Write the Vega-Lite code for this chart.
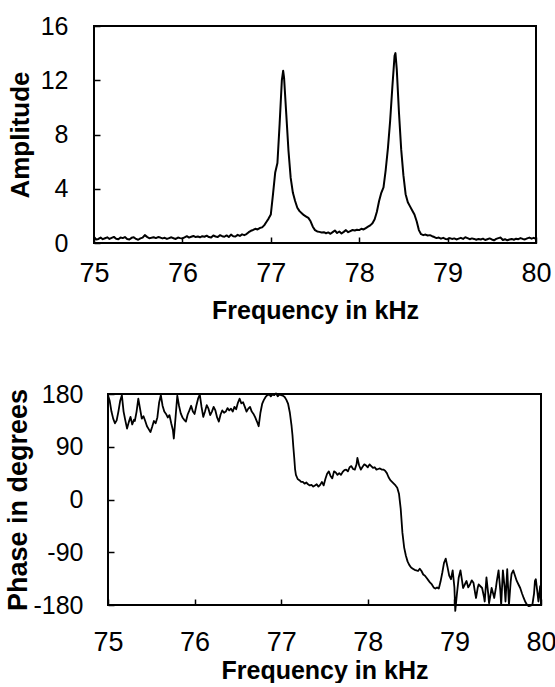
{
  "$schema": "https://vega.github.io/schema/vega-lite/v6.json",
  "background": "white",
  "padding": {"left": 4, "top": 13, "right": 0, "bottom": 0},
  "spacing": 58,
  "config": {
    "view": {"stroke": "black", "strokeWidth": 2},
    "font": "Liberation Sans",
    "axis": {
      "domain": false,
      "grid": false,
      "tickColor": "black",
      "tickWidth": 1.5,
      "tickSize": -6,
      "labelColor": "black",
      "titleColor": "black",
      "labelFont": "Liberation Sans",
      "titleFont": "Liberation Sans",
      "titleFontWeight": "bold",
      "labelFlush": false,
      "labelOverlap": false
    }
  },
  "datasets": {
    "amp": [
      {"f":75.000,"a":0.45},{"f":75.025,"a":0.25},{"f":75.050,"a":0.30},{"f":75.075,"a":0.40},{"f":75.100,"a":0.28},
      {"f":75.125,"a":0.35},{"f":75.150,"a":0.42},{"f":75.175,"a":0.30},{"f":75.200,"a":0.38},{"f":75.225,"a":0.45},
      {"f":75.250,"a":0.32},{"f":75.275,"a":0.28},{"f":75.300,"a":0.40},{"f":75.325,"a":0.36},{"f":75.350,"a":0.44},
      {"f":75.375,"a":0.30},{"f":75.400,"a":0.26},{"f":75.425,"a":0.38},{"f":75.450,"a":0.42},{"f":75.475,"a":0.30},
      {"f":75.500,"a":0.24},{"f":75.525,"a":0.34},{"f":75.550,"a":0.40},{"f":75.575,"a":0.58},{"f":75.600,"a":0.45},
      {"f":75.625,"a":0.35},{"f":75.650,"a":0.38},{"f":75.675,"a":0.42},{"f":75.700,"a":0.36},{"f":75.725,"a":0.44},
      {"f":75.750,"a":0.40},{"f":75.775,"a":0.34},{"f":75.800,"a":0.38},{"f":75.825,"a":0.30},{"f":75.850,"a":0.36},
      {"f":75.875,"a":0.42},{"f":75.900,"a":0.35},{"f":75.925,"a":0.30},{"f":75.950,"a":0.40},{"f":75.975,"a":0.36},
      {"f":76.000,"a":0.34},{"f":76.025,"a":0.42},{"f":76.050,"a":0.50},{"f":76.075,"a":0.40},{"f":76.100,"a":0.46},
      {"f":76.125,"a":0.52},{"f":76.150,"a":0.44},{"f":76.175,"a":0.48},{"f":76.200,"a":0.42},{"f":76.225,"a":0.50},
      {"f":76.250,"a":0.46},{"f":76.275,"a":0.54},{"f":76.300,"a":0.44},{"f":76.325,"a":0.40},{"f":76.350,"a":0.55},
      {"f":76.375,"a":0.48},{"f":76.400,"a":0.44},{"f":76.425,"a":0.58},{"f":76.450,"a":0.50},{"f":76.475,"a":0.46},
      {"f":76.500,"a":0.56},{"f":76.525,"a":0.44},{"f":76.550,"a":0.62},{"f":76.575,"a":0.50},{"f":76.600,"a":0.48},
      {"f":76.625,"a":0.60},{"f":76.650,"a":0.52},{"f":76.675,"a":0.64},{"f":76.700,"a":0.58},{"f":76.725,"a":0.66},
      {"f":76.750,"a":0.80},{"f":76.775,"a":0.90},{"f":76.800,"a":0.96},{"f":76.825,"a":1.05},{"f":76.850,"a":1.00},
      {"f":76.875,"a":1.10},{"f":76.900,"a":1.15},{"f":76.925,"a":1.30},{"f":76.950,"a":1.55},{"f":76.975,"a":1.80},
      {"f":77.000,"a":2.10},{"f":77.025,"a":3.60},{"f":77.050,"a":5.20},{"f":77.075,"a":5.90},{"f":77.100,"a":8.80},
      {"f":77.125,"a":12.00},{"f":77.140,"a":12.70},{"f":77.150,"a":12.20},{"f":77.175,"a":9.50},{"f":77.200,"a":6.80},
      {"f":77.225,"a":4.80},{"f":77.250,"a":3.70},{"f":77.275,"a":3.10},{"f":77.300,"a":2.60},{"f":77.325,"a":2.35},
      {"f":77.350,"a":2.20},{"f":77.375,"a":2.05},{"f":77.400,"a":1.95},{"f":77.425,"a":1.85},{"f":77.450,"a":1.60},
      {"f":77.475,"a":1.20},{"f":77.500,"a":0.95},{"f":77.525,"a":0.85},{"f":77.550,"a":0.82},{"f":77.575,"a":0.78},
      {"f":77.600,"a":0.80},{"f":77.625,"a":0.72},{"f":77.650,"a":0.78},{"f":77.675,"a":0.68},{"f":77.700,"a":0.80},
      {"f":77.725,"a":0.92},{"f":77.750,"a":0.74},{"f":77.775,"a":0.85},{"f":77.800,"a":0.70},{"f":77.825,"a":0.82},
      {"f":77.850,"a":0.95},{"f":77.875,"a":0.80},{"f":77.900,"a":0.88},{"f":77.925,"a":0.96},{"f":77.950,"a":0.92},
      {"f":77.975,"a":0.98},{"f":78.000,"a":0.95},{"f":78.025,"a":1.05},{"f":78.050,"a":1.00},{"f":78.075,"a":1.10},
      {"f":78.100,"a":1.20},{"f":78.125,"a":1.30},{"f":78.150,"a":1.45},{"f":78.175,"a":1.75},{"f":78.200,"a":2.30},
      {"f":78.225,"a":3.10},{"f":78.250,"a":3.70},{"f":78.275,"a":4.10},{"f":78.300,"a":5.40},{"f":78.325,"a":7.00},
      {"f":78.350,"a":9.00},{"f":78.375,"a":11.50},{"f":78.400,"a":13.80},{"f":78.410,"a":14.00},{"f":78.425,"a":12.80},
      {"f":78.450,"a":9.60},{"f":78.475,"a":6.90},{"f":78.500,"a":5.00},{"f":78.525,"a":3.60},{"f":78.550,"a":3.00},
      {"f":78.575,"a":2.70},{"f":78.600,"a":2.40},{"f":78.625,"a":2.10},{"f":78.650,"a":1.60},{"f":78.675,"a":0.95},
      {"f":78.700,"a":0.65},{"f":78.725,"a":0.58},{"f":78.750,"a":0.62},{"f":78.775,"a":0.55},{"f":78.800,"a":0.58},
      {"f":78.825,"a":0.50},{"f":78.850,"a":0.44},{"f":78.875,"a":0.36},{"f":78.900,"a":0.40},{"f":78.925,"a":0.32},
      {"f":78.950,"a":0.38},{"f":78.975,"a":0.30},{"f":79.000,"a":0.28},{"f":79.025,"a":0.36},{"f":79.050,"a":0.30},
      {"f":79.075,"a":0.34},{"f":79.100,"a":0.26},{"f":79.125,"a":0.32},{"f":79.150,"a":0.38},{"f":79.175,"a":0.30},
      {"f":79.200,"a":0.42},{"f":79.225,"a":0.36},{"f":79.250,"a":0.28},{"f":79.275,"a":0.34},{"f":79.300,"a":0.30},
      {"f":79.325,"a":0.24},{"f":79.350,"a":0.30},{"f":79.375,"a":0.26},{"f":79.400,"a":0.32},{"f":79.425,"a":0.22},
      {"f":79.450,"a":0.28},{"f":79.475,"a":0.34},{"f":79.500,"a":0.26},{"f":79.525,"a":0.20},{"f":79.550,"a":0.30},
      {"f":79.575,"a":0.36},{"f":79.600,"a":0.40},{"f":79.625,"a":0.22},{"f":79.650,"a":0.28},{"f":79.675,"a":0.20},
      {"f":79.700,"a":0.26},{"f":79.725,"a":0.30},{"f":79.750,"a":0.24},{"f":79.775,"a":0.32},{"f":79.800,"a":0.28},
      {"f":79.825,"a":0.36},{"f":79.850,"a":0.30},{"f":79.875,"a":0.26},{"f":79.900,"a":0.34},{"f":79.925,"a":0.40},
      {"f":79.950,"a":0.32},{"f":79.975,"a":0.38},{"f":80.000,"a":0.30}
    ],
    "phase": [
      {"f":75.00,"p":178},{"f":75.02,"p":168},{"f":75.04,"p":150},{"f":75.06,"p":138},{"f":75.08,"p":130},
      {"f":75.10,"p":135},{"f":75.12,"p":150},{"f":75.14,"p":168},{"f":75.16,"p":178},{"f":75.18,"p":150},
      {"f":75.20,"p":135},{"f":75.22,"p":121},{"f":75.24,"p":132},{"f":75.26,"p":141},{"f":75.28,"p":128},
      {"f":75.30,"p":136},{"f":75.31,"p":134},{"f":75.33,"p":150},{"f":75.35,"p":172},{"f":75.37,"p":155},
      {"f":75.39,"p":138},{"f":75.41,"p":142},{"f":75.43,"p":134},{"f":75.45,"p":125},{"f":75.47,"p":120},
      {"f":75.49,"p":115},{"f":75.51,"p":124},{"f":75.53,"p":134},{"f":75.55,"p":130},{"f":75.57,"p":140},
      {"f":75.59,"p":165},{"f":75.61,"p":178},{"f":75.63,"p":160},{"f":75.65,"p":150},{"f":75.67,"p":146},
      {"f":75.69,"p":140},{"f":75.71,"p":144},{"f":75.73,"p":130},{"f":75.75,"p":118},{"f":75.76,"p":104},
      {"f":75.78,"p":140},{"f":75.80,"p":177},{"f":75.82,"p":160},{"f":75.84,"p":147},{"f":75.86,"p":140},
      {"f":75.88,"p":136},{"f":75.90,"p":133},{"f":75.92,"p":145},{"f":75.94,"p":152},{"f":75.96,"p":160},
      {"f":75.98,"p":150},{"f":76.00,"p":146},{"f":76.02,"p":160},{"f":76.04,"p":172},{"f":76.06,"p":179},
      {"f":76.08,"p":158},{"f":76.10,"p":141},{"f":76.12,"p":150},{"f":76.14,"p":161},{"f":76.16,"p":155},
      {"f":76.18,"p":144},{"f":76.20,"p":150},{"f":76.22,"p":158},{"f":76.24,"p":152},{"f":76.26,"p":140},
      {"f":76.28,"p":133},{"f":76.30,"p":145},{"f":76.32,"p":152},{"f":76.34,"p":148},{"f":76.36,"p":150},
      {"f":76.38,"p":156},{"f":76.40,"p":152},{"f":76.42,"p":155},{"f":76.44,"p":150},{"f":76.46,"p":158},
      {"f":76.48,"p":154},{"f":76.50,"p":165},{"f":76.52,"p":172},{"f":76.54,"p":164},{"f":76.56,"p":166},
      {"f":76.58,"p":158},{"f":76.60,"p":150},{"f":76.62,"p":155},{"f":76.64,"p":158},{"f":76.66,"p":150},
      {"f":76.68,"p":146},{"f":76.70,"p":140},{"f":76.72,"p":133},{"f":76.74,"p":125},{"f":76.76,"p":148},
      {"f":76.78,"p":163},{"f":76.80,"p":170},{"f":76.82,"p":175},{"f":76.84,"p":178},{"f":76.86,"p":180},
      {"f":76.88,"p":176},{"f":76.90,"p":180},{"f":76.92,"p":178},{"f":76.94,"p":181},{"f":76.96,"p":176},
      {"f":76.98,"p":180},{"f":77.00,"p":178},{"f":77.02,"p":177},{"f":77.04,"p":175},{"f":77.06,"p":170},
      {"f":77.08,"p":163},{"f":77.10,"p":148},{"f":77.12,"p":125},{"f":77.13,"p":110},{"f":77.14,"p":90},
      {"f":77.15,"p":72},{"f":77.16,"p":52},{"f":77.17,"p":42},{"f":77.19,"p":35},{"f":77.21,"p":33},
      {"f":77.23,"p":30},{"f":77.25,"p":30},{"f":77.27,"p":27},{"f":77.29,"p":29},{"f":77.31,"p":26},
      {"f":77.33,"p":24},{"f":77.35,"p":25},{"f":77.37,"p":22},{"f":77.39,"p":24},{"f":77.41,"p":26},
      {"f":77.43,"p":22},{"f":77.45,"p":25},{"f":77.47,"p":30},{"f":77.49,"p":24},{"f":77.51,"p":35},
      {"f":77.53,"p":44},{"f":77.55,"p":48},{"f":77.57,"p":40},{"f":77.59,"p":36},{"f":77.61,"p":48},
      {"f":77.63,"p":46},{"f":77.65,"p":42},{"f":77.67,"p":45},{"f":77.69,"p":42},{"f":77.71,"p":47},
      {"f":77.73,"p":50},{"f":77.75,"p":51},{"f":77.77,"p":48},{"f":77.79,"p":55},{"f":77.81,"p":57},
      {"f":77.83,"p":52},{"f":77.85,"p":51},{"f":77.87,"p":60},{"f":77.88,"p":71},{"f":77.90,"p":58},
      {"f":77.92,"p":51},{"f":77.94,"p":56},{"f":77.96,"p":60},{"f":77.98,"p":58},{"f":78.00,"p":55},
      {"f":78.02,"p":60},{"f":78.04,"p":57},{"f":78.06,"p":54},{"f":78.08,"p":55},{"f":78.10,"p":51},
      {"f":78.12,"p":52},{"f":78.14,"p":53},{"f":78.16,"p":51},{"f":78.18,"p":51},{"f":78.20,"p":49},
      {"f":78.22,"p":45},{"f":78.24,"p":38},{"f":78.26,"p":33},{"f":78.28,"p":30},{"f":78.30,"p":27},
      {"f":78.32,"p":24},{"f":78.34,"p":20},{"f":78.36,"p":10},{"f":78.38,"p":-16},{"f":78.40,"p":-57},
      {"f":78.42,"p":-82},{"f":78.44,"p":-96},{"f":78.46,"p":-106},{"f":78.48,"p":-112},{"f":78.50,"p":-116},
      {"f":78.52,"p":-118},{"f":78.54,"p":-120},{"f":78.56,"p":-121},{"f":78.58,"p":-122},{"f":78.60,"p":-118},
      {"f":78.62,"p":-122},{"f":78.64,"p":-128},{"f":78.66,"p":-130},{"f":78.68,"p":-134},{"f":78.70,"p":-138},
      {"f":78.72,"p":-142},{"f":78.74,"p":-145},{"f":78.76,"p":-150},{"f":78.78,"p":-152},{"f":78.80,"p":-150},
      {"f":78.82,"p":-152},{"f":78.84,"p":-140},{"f":78.86,"p":-125},{"f":78.88,"p":-108},{"f":78.90,"p":-101},
      {"f":78.92,"p":-115},{"f":78.94,"p":-130},{"f":78.96,"p":-136},{"f":78.98,"p":-121},{"f":79.00,"p":-150},
      {"f":79.01,"p":-190},{"f":79.03,"p":-160},{"f":79.05,"p":-133},{"f":79.07,"p":-121},{"f":79.09,"p":-140},
      {"f":79.10,"p":-151},{"f":79.12,"p":-145},{"f":79.14,"p":-139},{"f":79.16,"p":-150},{"f":79.18,"p":-145},
      {"f":79.20,"p":-138},{"f":79.22,"p":-142},{"f":79.24,"p":-160},{"f":79.25,"p":-168},{"f":79.27,"p":-150},
      {"f":79.28,"p":-145},{"f":79.30,"p":-148},{"f":79.32,"p":-151},{"f":79.34,"p":-165},{"f":79.35,"p":-174},
      {"f":79.37,"p":-133},{"f":79.39,"p":-160},{"f":79.40,"p":-177},{"f":79.42,"p":-160},{"f":79.43,"p":-151},
      {"f":79.45,"p":-162},{"f":79.46,"p":-168},{"f":79.48,"p":-150},{"f":79.49,"p":-139},{"f":79.51,"p":-121},
      {"f":79.53,"p":-155},{"f":79.54,"p":-180},{"f":79.56,"p":-121},{"f":79.58,"p":-150},{"f":79.59,"p":-174},
      {"f":79.61,"p":-119},{"f":79.62,"p":-150},{"f":79.63,"p":-180},{"f":79.65,"p":-140},{"f":79.66,"p":-127},
      {"f":79.68,"p":-121},{"f":79.70,"p":-130},{"f":79.72,"p":-139},{"f":79.74,"p":-145},{"f":79.76,"p":-151},
      {"f":79.78,"p":-160},{"f":79.80,"p":-168},{"f":79.82,"p":-175},{"f":79.84,"p":-180},{"f":79.86,"p":-182},
      {"f":79.88,"p":-181},{"f":79.90,"p":-180},{"f":79.92,"p":-160},{"f":79.93,"p":-139},{"f":79.94,"p":-136},
      {"f":79.96,"p":-160},{"f":79.97,"p":-174},{"f":79.99,"p":-148},{"f":80.00,"p":-178}
    ]
  },
  "vconcat": [
    {
      "width": 442,
      "height": 217,
      "data": {"name": "amp"},
      "mark": {"type": "line", "color": "black", "strokeWidth": 2, "strokeJoin": "round"},
      "encoding": {
        "x": {
          "field": "f", "type": "quantitative",
          "scale": {"domain": [75, 80], "nice": false, "zero": false},
          "axis": {"title": "Frequency in kHz", "values": [75, 76, 77, 78, 79, 80],
                   "labelExpr": "'' + datum.value",
                   "labelFontSize": 27, "labelPadding": 23, "titleFontSize": 25, "titlePadding": 12}
        },
        "y": {
          "field": "a", "type": "quantitative",
          "scale": {"domain": [0, 16], "nice": false},
          "axis": {"title": "Amplitude", "values": [0, 4, 8, 12, 16],
                   "labelFontSize": 25, "labelPadding": 32, "titleFontSize": 26, "titlePadding": 7}
        }
      }
    },
    {
      "width": 447,
      "height": 211,
      "view": {"stroke": null},
      "layer": [
        {
          "data": {"name": "phase"},
          "mark": {"type": "line", "color": "black", "strokeWidth": 1.8, "strokeJoin": "round", "clip": false},
          "encoding": {
            "x": {
              "field": "f", "type": "quantitative",
              "scale": {"domain": [75, 80], "range": [14, 447], "nice": false, "zero": false},
              "axis": {"title": "Frequency in kHz", "values": [75, 76, 77, 78, 79, 80],
                       "labelExpr": "'' + datum.value",
                       "labelFontSize": 27, "labelPadding": 30, "titleFontSize": 25, "titlePadding": 3}
            },
            "y": {
              "field": "p", "type": "quantitative",
              "scale": {"domain": [-180, 180], "nice": false, "zero": false},
              "axis": {"title": "Phase in degrees", "values": [-180, -90, 0, 90, 180],
                       "labelExpr": "'' + datum.value", "offset": -14,
                       "labelFontSize": 25, "labelPadding": 31, "titleFontSize": 27, "titlePadding": 0}
            }
          }
        },
        {
          "data": {"values": [{}]},
          "mark": {"type": "rect", "filled": false, "color": "black", "strokeWidth": 2},
          "encoding": {
            "x": {"datum": 75, "type": "quantitative"},
            "x2": {"datum": 80},
            "y": {"datum": -180, "type": "quantitative"},
            "y2": {"datum": 180}
          }
        }
      ]
    }
  ]
}
